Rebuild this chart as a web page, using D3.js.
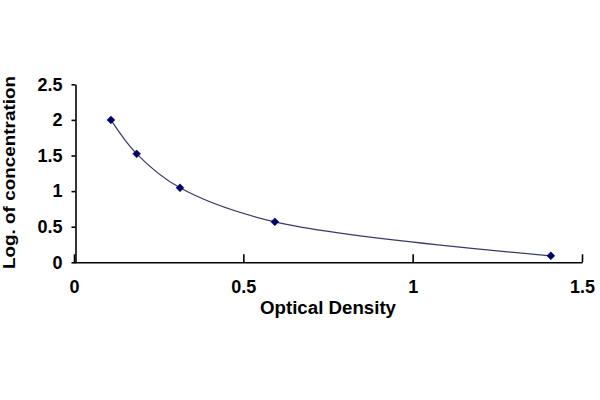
<!DOCTYPE html>
<html>
<head>
<meta charset="utf-8">
<script src="https://cdn.jsdelivr.net/npm/d3@7"></script>
<style>
  html, body { margin: 0; padding: 0; background: #fff; }
  svg { display: block; }
  text { font-family: "Liberation Sans", Arial, sans-serif; font-weight: bold; fill: #000; }
</style>
</head>
<body>
<svg id="chart" width="600" height="400"></svg>
<script>
const odValues = [0.109, 0.185, 0.313, 0.593, 1.408];
const logConc = [2.0, 1.523, 1.046, 0.568, 0.091];
const xTicks = [0, 0.5, 1, 1.5];
const yTicks = [0, 0.5, 1, 1.5, 2, 2.5];
const xTitle = "Optical Density";
const yTitle = "Log. of concentration";

const svg = d3.select("#chart");
const x = d3.scaleLinear().domain([0, 1.5]).range([74, 582]);
const y = d3.scaleLinear().domain([0, 2.5]).range([262.3, 84.3]);

// X axis
const gx = svg.append("g").attr("transform", `translate(0,${y(0)})`)
  .call(d3.axisBottom(x).tickValues(xTicks).tickFormat(d3.format("")).tickSizeInner(-8).tickSizeOuter(0).tickPadding(18));
gx.select(".domain").attr("stroke", "#000").attr("stroke-width", 1.6);
gx.selectAll(".tick line").attr("stroke", "#000").attr("stroke-width", 1.6);
gx.selectAll(".tick text").style("font-size", "18px").style("font-family", "'Liberation Sans', Arial, sans-serif").style("font-weight", "bold").attr("fill", "#000");

// Y axis
const gy = svg.append("g").attr("transform", `translate(75.5,0)`)
  .call(d3.axisLeft(y).tickValues(yTicks).tickFormat(d3.format("")).tickSizeInner(4).tickSizeOuter(0).tickPadding(9));
gy.select(".domain").attr("stroke", "#000").attr("stroke-width", 1.6);
gy.selectAll(".tick line").attr("stroke", "#000").attr("stroke-width", 1.6);
gy.selectAll(".tick text").style("font-size", "18px").style("font-family", "'Liberation Sans', Arial, sans-serif").style("font-weight", "bold").attr("fill", "#000");

// Smoothed line
const pts = odValues.map((v, i) => [v, logConc[i]]);
const line = d3.line().x(d => x(d[0])).y(d => y(d[1])).curve(d3.curveCatmullRom.alpha(0.5));
svg.append("path").datum(pts).attr("d", line)
  .attr("fill", "none").attr("stroke", "#3a3a6a").attr("stroke-width", 1.2);

// Diamond markers
const diamond = d3.symbol().type(d3.symbolDiamond2).size(40);
svg.selectAll(".pt").data(pts).enter().append("path")
  .attr("class", "pt")
  .attr("d", diamond)
  .attr("transform", d => `translate(${x(d[0])},${y(d[1])})`)
  .attr("fill", "#000066").attr("stroke", "#000066").attr("stroke-width", 0.5);

// Titles
svg.append("text").attr("x", 328).attr("y", 314).attr("text-anchor", "middle")
  .style("font-size", "18px").attr("textLength", 136).attr("lengthAdjust", "spacingAndGlyphs").text(xTitle);
svg.append("text").attr("transform", "translate(15,172.5) rotate(-90)").attr("text-anchor", "middle")
  .style("font-size", "17px").attr("textLength", 193).attr("lengthAdjust", "spacingAndGlyphs").text(yTitle);
</script>
</body>
</html>
